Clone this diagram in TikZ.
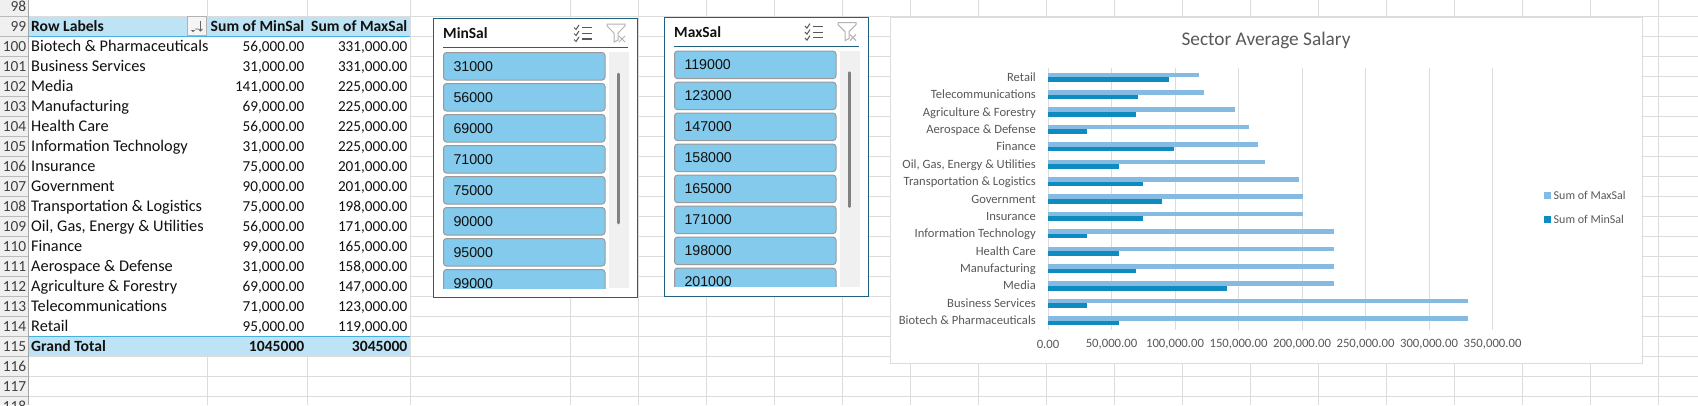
\documentclass[tikz,border=0pt]{standalone}
\usepackage{fontspec}
\setmainfont{Carlito}
\newfontfamily\itemfont{Liberation Sans}
\usetikzlibrary{arrows.meta, positioning, calc}
\definecolor{gridgray}{HTML}{DCDCDC}
\definecolor{headgray}{HTML}{F0F0F0}
\definecolor{headline}{HTML}{A6A6A6}
\definecolor{pivotblue}{HTML}{BDE3F5}
\definecolor{pivotline}{HTML}{45B0E1}
\definecolor{slicerteal}{HTML}{1F5F80}
\definecolor{btnblue}{HTML}{83CAEC}
\definecolor{btnline}{HTML}{9A9A9A}
\definecolor{trackgray}{HTML}{F0F0F0}
\definecolor{thumbgray}{HTML}{808080}
\definecolor{charttext}{HTML}{595959}
\definecolor{maxbar}{HTML}{85BAE2}
\definecolor{minbar}{HTML}{0E8CC0}
\definecolor{inktext}{HTML}{111111}

\tikzset{
  cell/.style={inner sep=0pt, text height=10.5pt, text depth=3pt, text=inktext, yshift=-2pt,
    font=\fontsize{15.4}{18}\selectfont},
  rowno/.style={cell, anchor=east, text=black!75},
  rowlabel/.style={cell, anchor=west, font=\fontsize{16.3}{18}\selectfont},
  rowvalue/.style={cell, anchor=east, font=\fontsize{15.2}{18}\selectfont},
  rowbold/.style={font=\fontsize{15.6}{18}\selectfont\bfseries},
  slicebtn/.style={draw=btnline, line width=1pt, fill=btnblue, rounded corners=3pt,
    anchor=north west, minimum width=161.5pt, minimum height=27.5pt, inner xsep=10pt,
    inner ysep=0pt, text width=141.5pt, align=left, text=inktext,
    font=\fontsize{14.2}{17}\selectfont\itemfont},
  catlabel/.style={anchor=east, inner sep=0pt, text height=8.5pt, text depth=2.5pt, yshift=-1pt,
    text=charttext, font=\fontsize{12.6}{14}\selectfont},
  ticklabel/.style={inner sep=0pt, text=charttext, font=\fontsize{12.7}{15}\selectfont},
  legendlabel/.style={anchor=west, inner sep=0pt, text=charttext,
    font=\fontsize{12}{14}\selectfont},
  listicon/.pic={
    \draw[black!65, line width=1pt] (0,-5) -- (2,-3) -- (5,-7.5)
      (0,1) -- (2,3) -- (5,-1.5) (0,7) -- (2,9) -- (5,4.5);
    \draw[black!65, line width=1.2pt] (8,-5) -- (18,-5) (8,1) -- (18,1) (8,6.5) -- (18,6.5);
  },
  funnelicon/.pic={
    \draw[black!30, line width=1pt] (0,-9) -- (18,-9) -- (18,-7) -- (11,0) -- (11,7)
      -- (7,9) -- (7,0) -- (0,-7) -- cycle;
    \draw[black!30, line width=1pt] (12,3) -- (18,9) (18,3) -- (12,9);
  },
}

% one slicer panel: name, title, shift, end of thumb, values
\newcommand{\slicerpanel}[6]{
  \begin{scope}[shift={(#3,#4)}]
    \node[draw=slicerteal, fill=white, line width=1.2pt, minimum width=204pt,
      minimum height=279pt, inner sep=0pt, anchor=north west] (#1) at (433,18) {};
    \node[anchor=west, inner sep=0pt, font=\fontsize{15.5}{18}\selectfont\bfseries,
      text=inktext] (#1title) at (443,33.5) {#2};
    \draw[slicerteal, line width=1pt] (443,47.7) -- (628,47.7);
    \pic at (574,32.5) {listicon};
    \pic at (607,33) {funnelicon};
    \fill[trackgray] (609,52) rectangle (629,288);
    \draw[thumbgray, line width=2.6pt, line cap=round] (618.5,74) -- (618.5,#5);
    \begin{scope}
      \clip (440,50) rectangle (606,288);
      \foreach \val [count=\k from 0] in {#6}
        \node[slicebtn] (#1btn\k) at (443,{52+31*\k}) {\val};
    \end{scope}
  \end{scope}
}

\begin{document}
\begin{tikzpicture}[x=1pt, y=-1pt]

\useasboundingbox (0,0) rectangle (1698,405);
\clip (0,0) rectangle (1698,405);
\fill[white] (0,0) rectangle (1698,405);

% =============================================
% Sheet grid
% =============================================
\foreach \r in {0,...,19}
  \draw[gridgray, line width=1pt] (28,{16+20*\r}) -- (1698,{16+20*\r});
\foreach \c in {0,...,16}
  \draw[gridgray, line width=1pt] ({570+68*\c},0) -- ({570+68*\c},405);
\foreach \c in {207,307,410}
  \draw[gridgray, line width=1pt] (\c,0) -- (\c,405);

% Row headers
\fill[headgray] (0,0) rectangle (28,405);
\draw[headline, line width=1pt] (28,0) -- (28,405);
\foreach \r in {0,...,19}
  \draw[gridgray!85!black, line width=.8pt] (0,{16+20*\r}) -- (28,{16+20*\r});
\node[rowno] (no98) at (26.5,6) {98};
\foreach \r in {99,...,118}
  \node[rowno] (no\r) at (26.5,{26+20*(\r-99)}) {\r};

% =============================================
% Pivot table
% =============================================
\fill[white] (28.5,36) rectangle (410,336);
\fill[pivotblue] (28.5,16.5) rectangle (410,36);
\fill[pivotblue] (28.5,336) rectangle (410,356);
\draw[pivotline, line width=1pt] (28.5,36) -- (410,36);
\draw[pivotline, line width=1pt] (28.5,336) -- (410,336);

\node[rowlabel, rowbold] (headlabel) at (31,26) {Row Labels};
\node[rowvalue, rowbold] (headmin) at (304.5,26) {Sum of MinSal};
\node[rowvalue, rowbold] (headmax) at (407.5,26) {Sum of MaxSal};

% Sort button
\node[draw=black!30, fill=black!4, line width=.8pt, minimum width=19pt, minimum height=18.5pt,
  inner sep=0pt] (sortbtn) at (197,26) {};
\draw[black!60, line width=.8pt] (200.5,21) -- (200.5,31) (198.5,29) -- (200.5,31) -- (202.5,29)
  (195,29) -- (198,29);
\fill[black!60] (191,30) -- (195,30) -- (193,32) -- cycle;

\foreach \r/\sector/\minsal/\maxsal [count=\k from 0] in {
  {100/Biotech \& Pharmaceuticals/56,000.00/331,000.00},
  {101/Business Services/31,000.00/331,000.00},
  {102/Media/141,000.00/225,000.00},
  {103/Manufacturing/69,000.00/225,000.00},
  {104/Health Care/56,000.00/225,000.00},
  {105/Information Technology/31,000.00/225,000.00},
  {106/Insurance/75,000.00/201,000.00},
  {107/Government/90,000.00/201,000.00},
  {108/Transportation \& Logistics/75,000.00/198,000.00},
  {109/Oil, Gas, Energy \& Utilities/56,000.00/171,000.00},
  {110/Finance/99,000.00/165,000.00},
  {111/Aerospace \& Defense/31,000.00/158,000.00},
  {112/Agriculture \& Forestry/69,000.00/147,000.00},
  {113/Telecommunications/71,000.00/123,000.00},
  {114/Retail/95,000.00/119,000.00}} {
  \node[rowlabel] (sector\r) at (31,{46+20*\k}) {\sector};
  \node[rowvalue] (min\r) at (304.5,{46+20*\k}) {\minsal};
  \node[rowvalue] (max\r) at (407.5,{46+20*\k}) {\maxsal};
}

\node[rowlabel, rowbold] (totallabel) at (31,346) {Grand Total};
\node[rowvalue, rowbold] (totalmin) at (304.5,346) {1045000};
\node[rowvalue, rowbold] (totalmax) at (407.5,346) {3045000};

% =============================================
% Slicers
% =============================================
\slicerpanel{minslicer}{MinSal}{0}{0}{223}{31000,56000,69000,71000,75000,90000,95000,99000}
\slicerpanel{maxslicer}{MaxSal}{231}{-1.4}{208}{119000,123000,147000,158000,165000,171000,198000,201000}

% =============================================
% Chart
% =============================================
\node[draw=gridgray, fill=white, line width=1pt, minimum width=752.5pt, minimum height=346pt,
  inner sep=0pt, anchor=north west] (chart) at (889.5,16.5) {};
\node[font=\fontsize{19.3}{22}\selectfont, text=charttext, inner sep=0pt] (charttitle)
  at (1266,40.5) {Sector Average Salary};

% Gridlines and axis labels
\foreach \v [count=\k from 0] in {0.00,{50,000.00},{100,000.00},{150,000.00},{200,000.00},
    {250,000.00},{300,000.00},{350,000.00}} {
  \draw[gridgray, line width=1pt] ({1048+63.5*\k},68) -- ({1048+63.5*\k},330);
  \node[ticklabel] (tick\k) at ({1048+63.5*\k},344.5) {\v};
}

% Bars, top to bottom
\foreach \sector/\minval/\maxval [count=\k from 0] in {
  {Retail/95/119},
  {Telecommunications/71/123},
  {Agriculture \& Forestry/69/147},
  {Aerospace \& Defense/31/158},
  {Finance/99/165},
  {Oil, Gas, Energy \& Utilities/56/171},
  {Transportation \& Logistics/75/198},
  {Government/90/201},
  {Insurance/75/201},
  {Information Technology/31/225},
  {Health Care/56/225},
  {Manufacturing/69/225},
  {Media/141/225},
  {Business Services/31/331},
  {Biotech \& Pharmaceuticals/56/331}} {
  \fill[maxbar] (1048,{77.3+17.39*\k-4.6}) rectangle ({1048+\maxval*1.27},{77.3+17.39*\k});
  \fill[minbar] (1048,{77.3+17.39*\k}) rectangle ({1048+\minval*1.27},{77.3+17.39*\k+4.6});
  \node[catlabel] (cat\k) at (1036,{77.3+17.39*\k}) {\sector};
}

% Legend
\fill[maxbar] (1544,192) rectangle (1551,199);
\fill[minbar] (1544,216) rectangle (1551,223);
\node[legendlabel] (legmax) at (1553.5,195) {Sum of MaxSal};
\node[legendlabel] (legmin) at (1553.5,219) {Sum of MinSal};

\end{tikzpicture}
\end{document}
